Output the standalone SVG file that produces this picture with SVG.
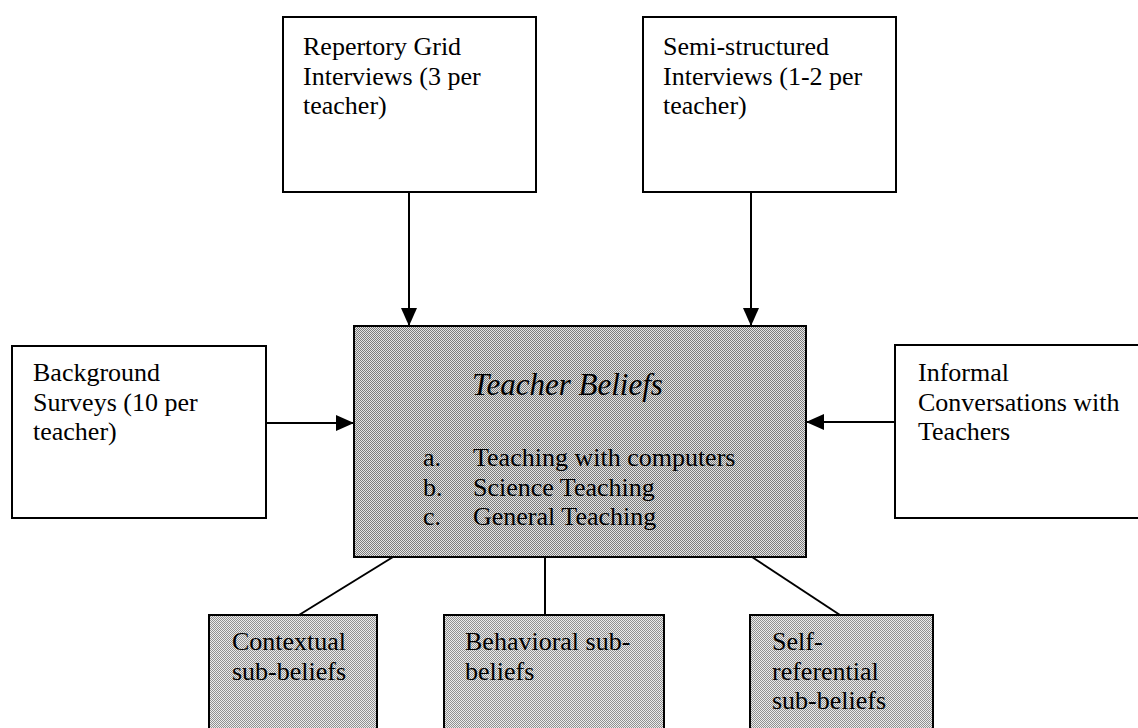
<svg xmlns="http://www.w3.org/2000/svg" width="1138" height="728" viewBox="0 0 1138 728">
  <defs>
    <!-- halftone screen used for the shaded boxes -->
    <pattern id="screenDark" patternUnits="userSpaceOnUse" width="2" height="2">
      <rect width="2" height="2" fill="#e4e4e4"/>
      <rect x="0" y="0" width="1" height="1" fill="#7c7c7c"/>
      <rect x="1" y="1" width="1" height="1" fill="#7c7c7c"/>
    </pattern>
    <pattern id="screenLight" patternUnits="userSpaceOnUse" width="2" height="2">
      <rect width="2" height="2" fill="#ececec"/>
      <rect x="0" y="0" width="1" height="1" fill="#909090"/>
      <rect x="1" y="1" width="1" height="1" fill="#909090"/>
    </pattern>
    <marker id="arrow" viewBox="0 0 18 16" refX="18" refY="8" markerWidth="18" markerHeight="16" markerUnits="userSpaceOnUse" orient="auto">
      <path d="M0,0 L18,8 L0,16 Z" fill="#000"/>
    </marker>
  </defs>
  <style>
    .box { fill: #fff; stroke: #000; stroke-width: 2; }
    .core { fill: url(#screenDark); stroke: #000; stroke-width: 2; }
    .sub { fill: url(#screenLight); stroke: #000; stroke-width: 2; }
    .label { font-family: "Liberation Serif", "Times New Roman", serif; font-size: 26px; fill: #000; }
    .title { font-family: "Liberation Serif", "Times New Roman", serif; font-size: 31px; font-style: italic; fill: #000; }
    .edge { stroke: #000; stroke-width: 2; fill: none; }
    .flow { marker-end: url(#arrow); }
  </style>

  <rect width="1138" height="728" fill="#fff"/>

  <g id="connectors">
    <line class="edge flow" x1="409" y1="192" x2="409" y2="326"/>
    <line class="edge flow" x1="751" y1="192" x2="751" y2="326"/>
    <line class="edge flow" x1="266" y1="423" x2="354" y2="423"/>
    <line class="edge flow" x1="895" y1="422" x2="806" y2="422"/>
    <line class="edge" x1="393" y1="557" x2="299" y2="615"/>
    <line class="edge" x1="545" y1="557" x2="545" y2="615"/>
    <line class="edge" x1="752" y1="557" x2="840" y2="615"/>
  </g>

  <g id="repertory-grid">
    <rect class="box" x="283" y="17" width="253" height="175"/>
    <text class="label" x="303" y="55">Repertory Grid</text>
    <text class="label" x="303" y="84.5">Interviews (3 per</text>
    <text class="label" x="303" y="114">teacher)</text>
  </g>

  <g id="semi-structured">
    <rect class="box" x="643" y="17" width="253" height="175"/>
    <text class="label" x="663" y="55">Semi-structured</text>
    <text class="label" x="663" y="84.5">Interviews (1-2 per</text>
    <text class="label" x="663" y="114">teacher)</text>
  </g>

  <g id="background-surveys">
    <rect class="box" x="12" y="346" width="254" height="172"/>
    <text class="label" x="33" y="381">Background</text>
    <text class="label" x="33" y="410.5">Surveys (10 per</text>
    <text class="label" x="33" y="440">teacher)</text>
  </g>

  <g id="informal-conversations">
    <rect class="box" x="895" y="345" width="250" height="173"/>
    <text class="label" x="918" y="381">Informal</text>
    <text class="label" x="918" y="410.5">Conversations with</text>
    <text class="label" x="918" y="440">Teachers</text>
  </g>

  <g id="teacher-beliefs">
    <rect class="core" x="354" y="326" width="452" height="231"/>
    <text class="title" x="472" y="395">Teacher Beliefs</text>
    <text class="label" x="423" y="466">a.</text>
    <text class="label" x="473" y="466">Teaching with computers</text>
    <text class="label" x="423" y="495.5">b.</text>
    <text class="label" x="473" y="495.5">Science Teaching</text>
    <text class="label" x="423" y="525">c.</text>
    <text class="label" x="473" y="525">General Teaching</text>
  </g>

  <g id="contextual">
    <rect class="sub" x="209" y="615" width="168" height="120"/>
    <text class="label" x="232" y="650">Contextual</text>
    <text class="label" x="232" y="679.5">sub-beliefs</text>
  </g>

  <g id="behavioral">
    <rect class="sub" x="444" y="615" width="220" height="120"/>
    <text class="label" x="465" y="650">Behavioral sub-</text>
    <text class="label" x="465" y="679.5">beliefs</text>
  </g>

  <g id="self-referential">
    <rect class="sub" x="750" y="615" width="183" height="120"/>
    <text class="label" x="772" y="650">Self-</text>
    <text class="label" x="772" y="679.5">referential</text>
    <text class="label" x="772" y="709">sub-beliefs</text>
  </g>
</svg>
